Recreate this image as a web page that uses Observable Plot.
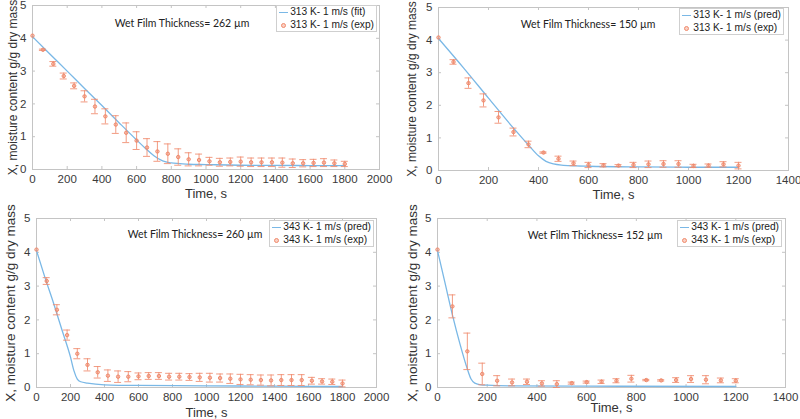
<!DOCTYPE html>
<html><head><meta charset="utf-8">
<script src="https://cdn.jsdelivr.net/npm/d3@7"></script>
<script src="https://cdn.jsdelivr.net/npm/@observablehq/plot@0.6"></script>
<style>
body{margin:0;background:#fff;}
#wrap{position:relative;width:800px;height:419px;overflow:hidden;background:#fff;font-family:"Liberation Sans Narrow","Liberation Sans",Arial,sans-serif;}
.panel{position:absolute;}
.legend{position:absolute;background:#fff;border:1px solid #cfcfcf;font-size:10.2px;color:#222;padding:0px 2px 0px 2px;line-height:12.5px;white-space:nowrap;}
.legend .ln{display:inline-block;width:9px;height:0;border-top:1.3px solid #7ab8e6;vertical-align:middle;margin-right:2px;}
.legend .pt{display:inline-block;width:9px;text-align:center;margin-right:2px;vertical-align:middle;line-height:6px;}
.legend .pt i{display:inline-block;width:3px;height:3px;border:1px solid #f08a6c;border-radius:50%;background:rgba(240,138,108,0.4);}
.note{position:absolute;font-family:Lato,"Open Sans",sans-serif;font-size:10.5px;color:#222;transform:translate(-50%,-50%);white-space:nowrap;}
</style>
</head><body>
<div id="wrap"></div>
<script>
// ---------- data ----------
const yTicks = [0,1,2,3,4,5];
const xTicks2000 = [0,200,400,600,800,1000,1200,1400,1600,1800,2000];
const xTicks1400 = [0,200,400,600,800,1000,1200,1400];

// Panel A: 313 K, 262 µm
const tA = [0,60,120,180,240,300,360,420,480,540,600,660,720,780,840,900,960,1020,1080,1140,1200,1260,1320,1380,1440,1500,1560,1620,1680,1740,1800];
const xA = [4.08,3.65,3.22,2.85,2.55,2.23,1.92,1.62,1.37,1.12,0.88,0.67,0.55,0.48,0.38,0.31,0.29,0.25,0.22,0.23,0.24,0.22,0.22,0.22,0.21,0.19,0.19,0.20,0.21,0.19,0.17];
const eA = [0.00,0.02,0.07,0.09,0.09,0.17,0.22,0.23,0.27,0.30,0.27,0.27,0.30,0.30,0.25,0.20,0.18,0.12,0.12,0.12,0.14,0.13,0.13,0.13,0.14,0.13,0.11,0.11,0.12,0.10,0.08];
const tAfit = [0,100,200,300,400,500,600,650,700,750,800,850,900,1000,1200,1400,1600,1800];
const xAfit = [4.05,3.52,3.00,2.47,1.95,1.42,0.90,0.65,0.42,0.26,0.20,0.18,0.16,0.15,0.13,0.125,0.12,0.12];

// Panel B: 313 K, 150 µm
const tB = [0,60,120,180,240,300,360,420,480,540,600,660,720,780,840,900,960,1020,1080,1140,1200];
const xB = [4.08,3.33,2.68,2.15,1.63,1.18,0.80,0.55,0.36,0.22,0.17,0.16,0.15,0.17,0.19,0.20,0.20,0.14,0.15,0.19,0.15];
const eB = [0.00,0.07,0.16,0.20,0.18,0.12,0.10,0.02,0.08,0.07,0.08,0.05,0.03,0.08,0.10,0.10,0.10,0.05,0.05,0.08,0.10];
const tBpred = [0,100,200,300,360,400,430,460,500,550,600,800,1000,1200];
const xBpred = [4.05,3.15,2.22,1.30,0.78,0.45,0.28,0.20,0.16,0.14,0.13,0.11,0.10,0.10];

// Panel C: 343 K, 260 µm
const tC = tA;
const xC = [4.08,3.15,2.30,1.55,1.00,0.67,0.45,0.35,0.32,0.32,0.33,0.34,0.34,0.32,0.32,0.31,0.30,0.29,0.28,0.26,0.24,0.23,0.22,0.21,0.22,0.22,0.22,0.20,0.18,0.17,0.12];
const eC = [0.00,0.10,0.15,0.15,0.15,0.18,0.17,0.17,0.17,0.15,0.10,0.10,0.10,0.10,0.10,0.10,0.12,0.13,0.12,0.14,0.15,0.15,0.15,0.16,0.16,0.16,0.16,0.10,0.08,0.08,0.10];
const tCpred = [0,50,100,150,200,220,240,260,300,400,600,1000,1400,1800];
const xCpred = [4.05,3.25,2.50,1.70,0.90,0.50,0.25,0.17,0.13,0.08,0.06,0.05,0.04,0.03];

// Panel D: 343 K, 152 µm
const tD = tB;
const xD = [4.08,2.40,1.07,0.40,0.20,0.15,0.17,0.12,0.10,0.13,0.16,0.17,0.20,0.26,0.22,0.21,0.22,0.25,0.23,0.21,0.20];
const eD = [0.00,0.34,0.54,0.32,0.15,0.10,0.08,0.08,0.10,0.03,0.03,0.05,0.06,0.10,0.02,0.02,0.07,0.10,0.12,0.07,0.06];
const tDpred = [0,30,60,90,120,135,150,175,200,300,600,1200];
const xDpred = [4.05,3.10,2.15,1.30,0.55,0.25,0.13,0.08,0.07,0.05,0.04,0.03];

const yLabel = "X, moisture content g/g dry mass";
const xLabel = "Time, s";

// ---------- drawing ----------
const BLUE = "#7ab8e6", ORANGE = "#f08a6c", AX = "#c4c4c4";
const FONT = "'Liberation Sans Narrow', 'Liberation Sans', Arial, sans-serif";
const wrap = document.getElementById("wrap");
const fmt = d => String(d);

function panel(c) {
  const pw = c.width - c.mL - c.mR, ph = c.height - c.mT - c.mB;
  const exp = c.t.map((t, i) => ({t, x: c.x[i], e: c.e[i]}));
  const ebars = exp.filter(d => d.e > 0);
  const line = c.tl.map((t, i) => ({t, x: c.xl[i]}));
  const cap = 3.5 * c.xmax / pw;
  const svg = Plot.plot({
    width: c.width, height: c.height,
    marginLeft: c.mL, marginRight: c.mR, marginTop: c.mT, marginBottom: c.mB,
    x: {domain: [0, c.xmax], ticks: c.xticks},
    y: {domain: [0, 5], ticks: yTicks},
    style: {fontSize: "11.5px", fontFamily: FONT, color: "#3a3a3a", background: "transparent", overflow: "visible"},
    marks: [
      Plot.frame({stroke: AX}),
      Plot.tickX(c.xticks, {x: d => d, stroke: AX, insetTop: ph - 3}),
      Plot.tickX(c.xticks, {x: d => d, stroke: AX, insetBottom: ph - 3}),
      Plot.tickY(yTicks, {y: d => d, stroke: AX, insetRight: pw - 3}),
      Plot.tickY(yTicks, {y: d => d, stroke: AX, insetLeft: pw - 3}),
      Plot.axisX({ticks: c.xticks, tickFormat: fmt, tickSize: 0, tickPadding: 5, label: null}),
      Plot.axisY({ticks: yTicks, tickFormat: fmt, tickSize: 0, tickPadding: 6, label: null}),
      Plot.line(line, {x: "t", y: "x", stroke: BLUE, strokeWidth: 1.3, curve: "monotone-x"}),
      Plot.ruleX(ebars, {x: "t", y1: d => d.x - d.e, y2: d => d.x + d.e, stroke: ORANGE, strokeWidth: 1, strokeOpacity: 0.85}),
      Plot.ruleY(ebars, {y: d => d.x + d.e, x1: d => d.t - cap, x2: d => d.t + cap, stroke: ORANGE, strokeWidth: 1, strokeOpacity: 0.85}),
      Plot.ruleY(ebars, {y: d => d.x - d.e, x1: d => d.t - cap, x2: d => d.t + cap, stroke: ORANGE, strokeWidth: 1, strokeOpacity: 0.85}),
      Plot.dot(exp, {x: "t", y: "x", r: 1.7, stroke: ORANGE, strokeWidth: 1, fill: ORANGE, fillOpacity: 0.45}),
      Plot.text([xLabel], {frameAnchor: "bottom", lineAnchor: "middle", textAnchor: "middle", dy: c.xlDy, fontSize: 13, fill: "#333"}),
      Plot.text([yLabel], {frameAnchor: "left", lineAnchor: "middle", textAnchor: "middle", rotate: -90, dx: c.ylDx, fontSize: c.ylSize, fill: "#333"})
    ]
  });
  const div = document.createElement("div");
  div.className = "panel";
  div.style.left = c.left + "px"; div.style.top = c.top + "px";
  div.appendChild(svg);
  wrap.appendChild(div);

  const lg = document.createElement("div");
  lg.className = "legend";
  lg.style.right = (800 - c.lgR) + "px"; lg.style.top = c.lgY + "px";
  lg.innerHTML = `<div><span class="ln"></span>${c.lineName}</div><div><span class="pt"><i></i></span>${c.expName}</div>`;
  wrap.appendChild(lg);

  const nt = document.createElement("div");
  nt.className = "note";
  nt.style.left = c.ntX + "px"; nt.style.top = c.ntY + "px";
  nt.textContent = c.note;
  wrap.appendChild(nt);
}

panel({left: 0, top: 0, width: 400, height: 210, mL: 32, mR: 21, mT: 5, mB: 41,
  xmax: 2000, xticks: xTicks2000, t: tA, x: xA, e: eA, tl: tAfit, xl: xAfit,
  xlDy: 24, ylDx: -19, ylSize: 12,
  lgR: 377, lgY: 5, lineName: "313 K- 1 m/s (fit)", expName: "313 K- 1 m/s (exp)",
  ntX: 182, ntY: 23, note: "Wet Film Thickness= 262 µm"});

panel({left: 400, top: 0, width: 400, height: 210, mL: 38, mR: 12, mT: 7, mB: 40,
  xmax: 1400, xticks: xTicks1400, t: tB, x: xB, e: eB, tl: tBpred, xl: xBpred,
  xlDy: 24, ylDx: -26, ylSize: 12,
  lgR: 784, lgY: 8, lineName: "313 K- 1 m/s (pred)", expName: "313 K- 1 m/s (exp)",
  ntX: 588, ntY: 24, note: "Wet Film Thickness= 150 µm"});

panel({left: 0, top: 210, width: 400, height: 209, mL: 36, mR: 24, mT: 8, mB: 32,
  xmax: 2000, xticks: xTicks2000, t: tC, x: xC, e: eC, tl: tCpred, xl: xCpred,
  xlDy: 25, ylDx: -26, ylSize: 13.5,
  lgR: 374, lgY: 220, lineName: "343 K- 1 m/s (pred)", expName: "343 K- 1 m/s (exp)",
  ntX: 195, ntY: 234, note: "Wet Film Thickness= 260 µm"});

panel({left: 400, top: 210, width: 400, height: 209, mL: 37, mR: 15, mT: 8, mB: 32,
  xmax: 1400, xticks: xTicks1400, t: tD, x: xD, e: eD, tl: tDpred, xl: xDpred,
  xlDy: 20, ylDx: -25, ylSize: 13.5,
  lgR: 782, lgY: 220, lineName: "343 K- 1 m/s (pred)", expName: "343 K- 1 m/s (exp)",
  ntX: 595, ntY: 235, note: "Wet Film Thickness= 152 µm"});
</script>
</body></html>
